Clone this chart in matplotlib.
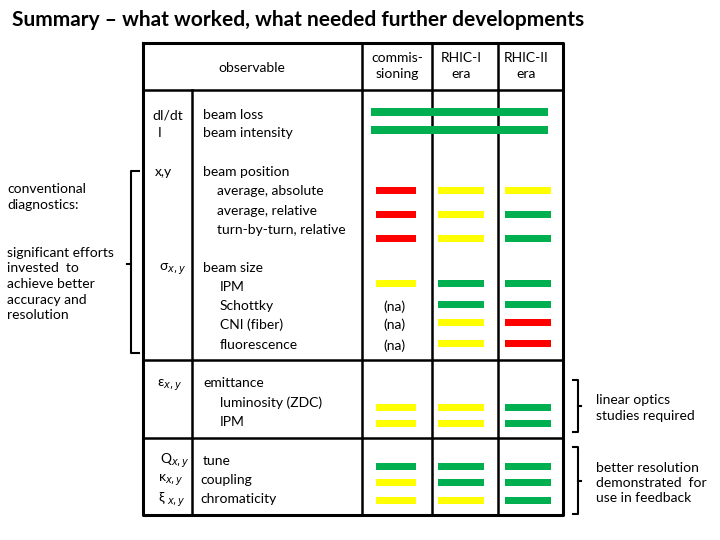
import matplotlib.pyplot as plt

plt.rcParams['font.family'] = ['Lato', 'DejaVu Sans']

# one entry per observable line, status per era
observables = ['beam loss', 'beam intensity',
               'average, absolute', 'average, relative', 'turn-by-turn, relative',
               'IPM', 'Schottky', 'CNI (fiber)', 'fluorescence',
               'luminosity (ZDC)', 'IPM',
               'tune', 'coupling', 'chromaticity']
commissioning = ['green', 'green', 'red', 'red', 'red',
                 'yellow', 'na', 'na', 'na',
                 'yellow', 'yellow',
                 'green', 'yellow', 'yellow']
rhic1 = ['green', 'green', 'yellow', 'yellow', 'yellow',
         'green', 'green', 'yellow', 'yellow',
         'yellow', 'yellow',
         'green', 'green', 'yellow']
rhic2 = ['green', 'green', 'yellow', 'green', 'green',
         'green', 'green', 'red', 'red',
         'green', 'green',
         'green', 'green', 'green']
eras = ['commis-\nsioning', 'RHIC-I\nera', 'RHIC-II\nera']

colors = {'green': '#00b050', 'yellow': '#ffff00', 'red': '#ff0000'}

# layout (pixel coordinates)
bar_y = [112, 130, 190, 214, 238, 283, 304, 322, 343, 407, 423, 466, 482, 500]
col_x = [(376, 416), (438, 484), (505, 551)]
merged = [0, 1]  # rows where one bar spans all three columns

fig = plt.figure(figsize=(7.2, 5.4), dpi=100)
ax = fig.add_axes([0, 0, 1, 1])
ax.set_xlim(0, 720)
ax.set_ylim(540, 0)
ax.axis('off')

# table grid
lw_out, lw_in = 2.2, 1.8
ax.plot([143, 563, 563, 143, 143], [43, 43, 515, 515, 43], color='black', lw=lw_out, zorder=1)
for x in [362, 432, 498]:
    ax.plot([x, x], [43, 515], color='black', lw=lw_in, zorder=1)
ax.plot([192, 192], [90, 515], color='black', lw=lw_in, zorder=1)
for y in [90, 360, 438]:
    ax.plot([143, 563], [y, y], color='black', lw=lw_in, zorder=1)

# status bars
for i, y in enumerate(bar_y):
    if i in merged:
        ax.barh(y, 548 - 371, left=371, height=8, color=colors[commissioning[i]], zorder=2)
        continue
    for (x0, x1), era in zip(col_x, [commissioning, rhic1, rhic2]):
        s = era[i]
        if s == 'na':
            ax.text((x0 + x1) / 2 - 2, y + 3, '(na)', ha='center', va='center', fontsize=10)
        else:
            ax.barh(y, x1 - x0, left=x0, height=7, color=colors[s], zorder=2)

# header
ax.text(252, 68, 'observable', ha='center', va='center', fontsize=10)
for xc, lab in zip([397, 461, 526], eras):
    ax.text(xc, 66, lab, ha='center', va='center', fontsize=10, linespacing=1.4)

# symbol column
symbols = [('dI/dt', 152, 115), ('I', 158, 133), ('x,y', 155, 172),
           ('\u03c3$_{x,y}$', 159, 269), ('\u03b5$_{x,y}$', 157, 385),
           ('Q$_{x,y}$', 160, 461), ('\u03ba$_{x,y}$', 158, 480),
           ('\u03be $_{x,y}$', 158, 500)]
for s, x, y in symbols:
    ax.text(x, y, s, ha='left', va='center', fontsize=10)

# description column
desc = [('beam loss', 203, 115), ('beam intensity', 203, 133),
        ('beam position', 203, 172), (observables[2], 217, 191),
        (observables[3], 217, 211), (observables[4], 217, 230),
        ('beam size', 203, 268), (observables[5], 220, 287),
        (observables[6], 220, 306), (observables[7], 220, 325),
        (observables[8], 220, 345),
        ('emittance', 203, 383), (observables[9], 220, 403),
        (observables[10], 220, 422),
        (observables[11], 203, 461), (observables[12], 200, 480),
        (observables[13], 200, 499)]
for s, x, y in desc:
    ax.text(x, y, s, ha='left', va='center', fontsize=10)

# title
ax.text(12, 20, 'Summary \u2013 what worked, what needed further developments',
        ha='left', va='center', fontsize=15, fontweight='bold')

# left note with bracket
ax.text(7, 197, 'conventional\ndiagnostics:', ha='left', va='center', fontsize=10, linespacing=1.35)
ax.text(7, 284, 'significant efforts\ninvested  to\nachieve better\naccuracy and\nresolution',
        ha='left', va='center', fontsize=10, linespacing=1.35)
ax.plot([139, 131, 131, 139], [171, 171, 353, 353], color='black', lw=1.5)
ax.plot([127, 131], [264, 264], color='black', lw=1.5)

# right notes with brackets
for y0, y1 in [(380, 432), (447, 514)]:
    ax.plot([573, 578, 578, 573], [y0, y0, y1, y1], color='black', lw=1.5)
    ym = (y0 + y1) / 2
    ax.plot([578, 581], [ym, ym], color='black', lw=1.5)
ax.text(596, 408, 'linear optics\nstudies required', ha='left', va='center', fontsize=10, linespacing=1.35)
ax.text(596, 483, 'better resolution\ndemonstrated  for\nuse in feedback', ha='left', va='center',
        fontsize=10, linespacing=1.35)

fig.savefig('out.png', dpi=100)
